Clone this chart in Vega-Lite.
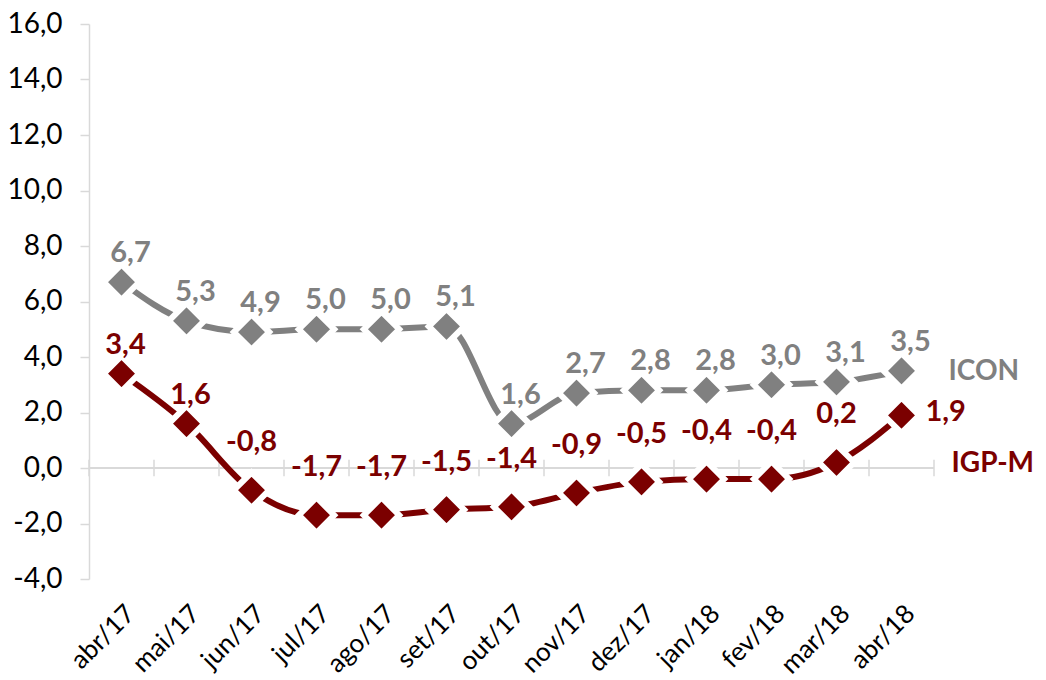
{
  "$schema": "https://vega.github.io/schema/vega-lite/v6.json",
  "width": 845,
  "height": 555,
  "autosize": {"type": "none"},
  "padding": {"left": 89, "top": 24, "right": 112, "bottom": 101},
  "background": "white",
  "config": {
    "view": {"stroke": null},
    "font": "Lato",
    "locale": {"number": {"decimal": ",", "thousands": ".", "grouping": [3], "currency": ["R$", ""], "minus": "-"}}
  },
  "data": {
    "values": [
      {"month": "abr/17", "series": "ICON", "value": 6.7},
      {"month": "mai/17", "series": "ICON", "value": 5.3},
      {"month": "jun/17", "series": "ICON", "value": 4.9},
      {"month": "jul/17", "series": "ICON", "value": 5.0},
      {"month": "ago/17", "series": "ICON", "value": 5.0},
      {"month": "set/17", "series": "ICON", "value": 5.1},
      {"month": "out/17", "series": "ICON", "value": 1.6},
      {"month": "nov/17", "series": "ICON", "value": 2.7},
      {"month": "dez/17", "series": "ICON", "value": 2.8},
      {"month": "jan/18", "series": "ICON", "value": 2.8},
      {"month": "fev/18", "series": "ICON", "value": 3.0},
      {"month": "mar/18", "series": "ICON", "value": 3.1},
      {"month": "abr/18", "series": "ICON", "value": 3.5},
      {"month": "abr/17", "series": "IGP-M", "value": 3.4},
      {"month": "mai/17", "series": "IGP-M", "value": 1.6},
      {"month": "jun/17", "series": "IGP-M", "value": -0.8},
      {"month": "jul/17", "series": "IGP-M", "value": -1.7},
      {"month": "ago/17", "series": "IGP-M", "value": -1.7},
      {"month": "set/17", "series": "IGP-M", "value": -1.5},
      {"month": "out/17", "series": "IGP-M", "value": -1.4},
      {"month": "nov/17", "series": "IGP-M", "value": -0.9},
      {"month": "dez/17", "series": "IGP-M", "value": -0.5},
      {"month": "jan/18", "series": "IGP-M", "value": -0.4},
      {"month": "fev/18", "series": "IGP-M", "value": -0.4},
      {"month": "mar/18", "series": "IGP-M", "value": 0.2},
      {"month": "abr/18", "series": "IGP-M", "value": 1.9}
    ]
  },
  "encoding": {
    "x": {
      "field": "month",
      "type": "ordinal",
      "sort": ["abr/17", "mai/17", "jun/17", "jul/17", "ago/17", "set/17", "out/17", "nov/17", "dez/17", "jan/18", "fev/18", "mar/18", "abr/18"],
      "scale": {"type": "band", "paddingInner": 0, "paddingOuter": 0},
      "bandPosition": 0.5,
      "axis": {
        "title": null,
        "orient": "bottom",
        "domain": false,
        "ticks": false,
        "labelAngle": -45,
        "labelFontSize": 26,
        "labelColor": "#000000",
        "labelPadding": 21,
        "labelOffset": 0
      }
    },
    "y": {
      "field": "value",
      "type": "quantitative",
      "scale": {"domain": [-4, 16], "nice": false, "zero": false},
      "axis": {
        "title": null,
        "values": [-4, -2, 0, 2, 4, 6, 8, 10, 12, 14, 16],
        "format": ".1f",
        "grid": false,
        "domainColor": "#d9d9d9",
        "domainWidth": 1.5,
        "tickColor": "#d9d9d9",
        "tickWidth": 1.5,
        "tickSize": 9,
        "labelFontSize": 28,
        "labelColor": "#000000",
        "labelPadding": 18
      }
    },
    "color": {
      "field": "series",
      "type": "nominal",
      "scale": {"domain": ["ICON", "IGP-M"], "range": ["#808080", "#7b0000"]},
      "legend": null
    }
  },
  "layer": [
    {
      "mark": {"type": "rule", "color": "#d9d9d9", "strokeWidth": 1.5},
      "encoding": {"y": {"datum": 0}, "x": null, "color": null}
    },
    {
      "transform": [{"filter": "datum.series === 'ICON'"}],
      "mark": {"type": "rule", "color": "#d9d9d9", "strokeWidth": 1.5},
      "encoding": {
        "x": {"field": "month", "type": "ordinal", "sort": ["abr/17", "mai/17", "jun/17", "jul/17", "ago/17", "set/17", "out/17", "nov/17", "dez/17", "jan/18", "fev/18", "mar/18", "abr/18"], "bandPosition": 0},
        "y": {"datum": 0.3},
        "y2": {"datum": -0.3},
        "color": null
      }
    },
    {
      "transform": [{"filter": "datum.series === 'ICON' && datum.month === 'abr/18'"}],
      "mark": {"type": "rule", "color": "#d9d9d9", "strokeWidth": 1.5},
      "encoding": {
        "x": {"field": "month", "type": "ordinal", "sort": ["abr/17", "mai/17", "jun/17", "jul/17", "ago/17", "set/17", "out/17", "nov/17", "dez/17", "jan/18", "fev/18", "mar/18", "abr/18"], "bandPosition": 1},
        "y": {"datum": 0.3},
        "y2": {"datum": -0.3},
        "color": null
      }
    },
    {
      "mark": {"type": "line", "interpolate": "monotone", "strokeWidth": 6}
    },
    {
      "mark": {"type": "point", "shape": "diamond", "filled": true, "size": 1250, "opacity": 1, "stroke": "white", "strokeWidth": 6},
      "encoding": {"fill": {"field": "series", "type": "nominal", "scale": {"domain": ["ICON", "IGP-M"], "range": ["#808080", "#7b0000"]}, "legend": null}, "color": null}
    },
    {
      "transform": [{"filter": "datum.series === 'ICON'"}],
      "mark": {"type": "text", "fontSize": 29, "fontWeight": "bold", "dx": 9, "dy": -29},
      "encoding": {"text": {"field": "value", "type": "quantitative", "format": ".1f"}}
    },
    {
      "transform": [{"filter": "datum.series === 'IGP-M' && (datum.month === 'abr/17' || datum.month === 'mai/17')"}],
      "mark": {"type": "text", "fontSize": 29, "fontWeight": "bold", "dx": 4, "dy": -29},
      "encoding": {"text": {"field": "value", "type": "quantitative", "format": ".1f"}}
    },
    {
      "transform": [{"filter": "datum.series === 'IGP-M' && datum.month !== 'abr/17' && datum.month !== 'mai/17' && datum.month !== 'abr/18'"}],
      "mark": {"type": "text", "fontSize": 29, "fontWeight": "bold", "dx": 0, "dy": -48},
      "encoding": {"text": {"field": "value", "type": "quantitative", "format": ".1f"}}
    },
    {
      "transform": [{"filter": "datum.series === 'IGP-M' && datum.month === 'abr/18'"}],
      "mark": {"type": "text", "fontSize": 29, "fontWeight": "bold", "align": "left", "dx": 24, "dy": -3},
      "encoding": {"text": {"field": "value", "type": "quantitative", "format": ".1f"}}
    },
    {
      "transform": [{"filter": "datum.series === 'ICON' && datum.month === 'abr/18'"}],
      "mark": {"type": "text", "fontSize": 28, "fontWeight": "bold", "align": "left", "dx": 47, "dy": 1},
      "encoding": {"text": {"field": "series", "type": "nominal"}}
    },
    {
      "transform": [{"filter": "datum.series === 'IGP-M' && datum.month === 'abr/18'"}],
      "mark": {"type": "text", "fontSize": 28, "fontWeight": "bold", "align": "left", "dx": 50, "dy": -4},
      "encoding": {"text": {"field": "series", "type": "nominal"}, "y": {"datum": 0}}
    }
  ]
}
